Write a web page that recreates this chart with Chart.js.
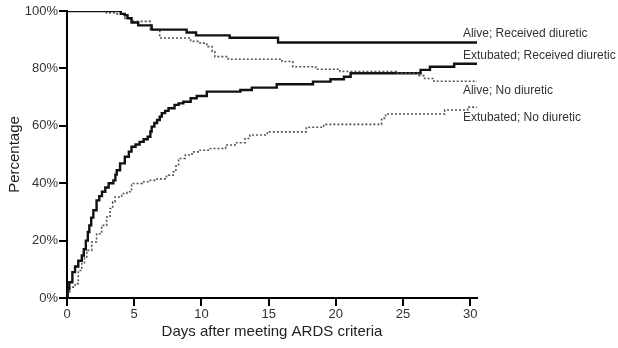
<!DOCTYPE html>
<html lang="en">
<head>
    <meta charset="UTF-8">
    <title>Alive and extubated by diuretic use</title>
    <script src="https://cdn.jsdelivr.net/npm/chart.js"></script>
    <style>
        body { margin: 0; background: #fff; }
        canvas { display: block; }
    </style>
</head>
<body>
    <canvas id="kmChart" width="618" height="348"></canvas>
    <script>
        // [day, percent] - value becomes percent at that day
        const aliveDiuretic = [
            [0, 100], [4.0, 99], [4.3, 98.5], [4.5, 97.5], [4.8, 96], [5.3, 95], [6.3, 93.5],
            [8.9, 92.5], [9.6, 91.5], [12.1, 90.7], [15.7, 89], [30.5, 89]
        ];
        const aliveNoDiuretic = [
            [0, 100], [2.95, 99.3], [3.6, 99], [4.3, 97.5], [4.8, 96.4], [6.2, 93.5], [6.9, 90.6],
            [9.2, 89.4], [9.9, 88.8], [10.4, 87.6], [10.8, 85.9], [11.0, 84.1], [12.0, 83.2],
            [16.0, 82.4], [16.8, 80.6], [18.5, 79.7], [20.3, 78.9], [24.5, 78.3], [26.1, 77.5],
            [26.6, 76.5], [27.3, 75.5], [30.5, 75.5]
        ];
        const extubatedDiuretic = [
            [0, 0], [0.05, 3], [0.17, 5.5], [0.4, 9], [0.6, 11], [0.84, 13], [1.1, 14.8], [1.25, 17],
            [1.4, 20], [1.55, 23], [1.66, 25.3], [1.8, 28], [1.96, 30.6], [2.2, 34], [2.4, 35.5],
            [2.6, 37], [2.85, 38.5], [3.1, 40], [3.45, 41], [3.6, 43], [3.7, 44.5], [3.95, 46.9],
            [4.3, 49.2], [4.6, 51], [4.8, 52.7], [5.1, 53.5], [5.4, 54.4], [5.7, 55.3], [6.0, 56.2],
            [6.2, 58], [6.3, 59.7], [6.5, 61], [6.7, 62], [6.9, 63.2], [7.05, 64.4], [7.3, 65.2],
            [7.55, 66.1], [8.0, 67.3], [8.3, 67.8], [8.65, 68.4], [9.2, 69.6], [9.65, 70.4],
            [10.4, 71.9], [12.9, 72.5], [13.75, 73.3], [15.6, 74.5], [18.3, 75.4], [19.6, 76.2],
            [20.6, 77.1], [21.1, 78.3], [26.3, 79.5], [27.0, 80.6], [28.8, 81.6], [30.5, 81.6]
        ];
        const extubatedNoDiuretic = [
            [0, 0], [0.05, 2], [0.2, 3.8], [0.6, 5], [0.84, 9.6], [1.1, 12], [1.3, 14], [1.47, 16.6],
            [1.84, 19.5], [2.2, 22.4], [2.58, 25.3], [2.95, 28.2], [3.2, 31.2], [3.4, 33.5],
            [3.57, 35.2], [4.07, 36.4], [4.45, 37], [4.8, 39.9], [5.6, 40.5], [6.2, 41], [6.7, 41.5],
            [7.4, 42.8], [7.9, 44], [8.1, 46], [8.3, 48.6], [8.8, 49.8], [9.3, 50.9], [9.9, 51.5],
            [10.5, 52.1], [11.8, 53.3], [12.5, 54.1], [13.25, 55.6], [13.6, 56.8], [14.9, 57.9],
            [17.8, 59.5], [19.1, 60.5], [23.4, 62.6], [23.7, 64.1], [28.1, 65.5], [29.8, 66.5],
            [30.5, 66.5]
        ];
        const seriesLabels = [
            'Alive; Received diuretic',
            'Alive; No diuretic',
            'Extubated; Received diuretic',
            'Extubated; No diuretic'
        ];
        const xTicks = [0, 5, 10, 15, 20, 25, 30];
        const yTicks = [0, 20, 40, 60, 80, 100];

        const toPoints = arr => arr.map(([x, y]) => ({ x: x, y: y }));

        const solid = { borderColor: '#111', borderWidth: 2.4 };
        const dotted = { borderColor: '#555', borderWidth: 1.6, borderDash: [2, 2] };

        // Text next to the right end of every curve
        const endLabels = {
            id: 'endLabels',
            afterDatasetsDraw(chart) {
                const { ctx, scales: { x, y } } = chart;
                const offsets = [-9, 9, -8, 11];
                ctx.save();
                ctx.font = '12px "Liberation Sans", Arial, sans-serif';
                ctx.fillStyle = '#333';
                ctx.textBaseline = 'middle';
                chart.data.datasets.forEach((ds, i) => {
                    const last = ds.data[ds.data.length - 1];
                    ctx.fillText(seriesLabels[i], x.getPixelForValue(29.45),
                        y.getPixelForValue(last.y) + offsets[i]);
                });
                ctx.restore();
            }
        };

        const tickFont = { family: '"Liberation Sans", Arial, sans-serif', size: 13 };

        new Chart(document.getElementById('kmChart'), {
            type: 'line',
            data: {
                datasets: [
                    { label: seriesLabels[0], data: toPoints(aliveDiuretic), ...solid },
                    { label: seriesLabels[1], data: toPoints(aliveNoDiuretic), ...dotted },
                    { label: seriesLabels[2], data: toPoints(extubatedDiuretic), ...solid },
                    { label: seriesLabels[3], data: toPoints(extubatedNoDiuretic), ...dotted }
                ]
            },
            options: {
                responsive: false,
                animation: false,
                layout: { padding: { top: 11, right: 141, left: 6, bottom: 7 } },
                plugins: { legend: { display: false }, tooltip: { enabled: false } },
                elements: { line: { stepped: true }, point: { radius: 0 } },
                scales: {
                    x: {
                        type: 'linear',
                        min: 0,
                        max: 30.5,
                        afterBuildTicks: s => { s.ticks = xTicks.map(v => ({ value: v })); },
                        afterFit: s => { s.height = 43; },
                        border: { display: true, color: '#000', width: 2 },
                        grid: { drawOnChartArea: false, drawTicks: true, tickLength: 8, color: '#000', lineWidth: 2 },
                        ticks: { color: '#333', font: tickFont, padding: 1, maxRotation: 0 },
                        title: {
                            display: true,
                            text: 'Days after meeting ARDS criteria',
                            color: '#222',
                            font: { family: '"Liberation Sans", Arial, sans-serif', size: 15 },
                            padding: { top: 0, bottom: 0 }
                        }
                    },
                    y: {
                        min: 0,
                        max: 100,
                        afterBuildTicks: s => { s.ticks = yTicks.map(v => ({ value: v })); },
                        afterFit: s => { s.width = 61; },
                        border: { display: true, color: '#000', width: 2 },
                        grid: { drawOnChartArea: false, drawTicks: true, tickLength: 8, color: '#000', lineWidth: 2 },
                        ticks: { color: '#333', font: tickFont, padding: 1, callback: v => v + '%' },
                        title: {
                            display: true,
                            text: 'Percentage',
                            color: '#222',
                            font: { family: '"Liberation Sans", Arial, sans-serif', size: 15 },
                            padding: { top: 0, bottom: 0 }
                        }
                    }
                }
            },
            plugins: [endLabels]
        });
    </script>
</body>
</html>
